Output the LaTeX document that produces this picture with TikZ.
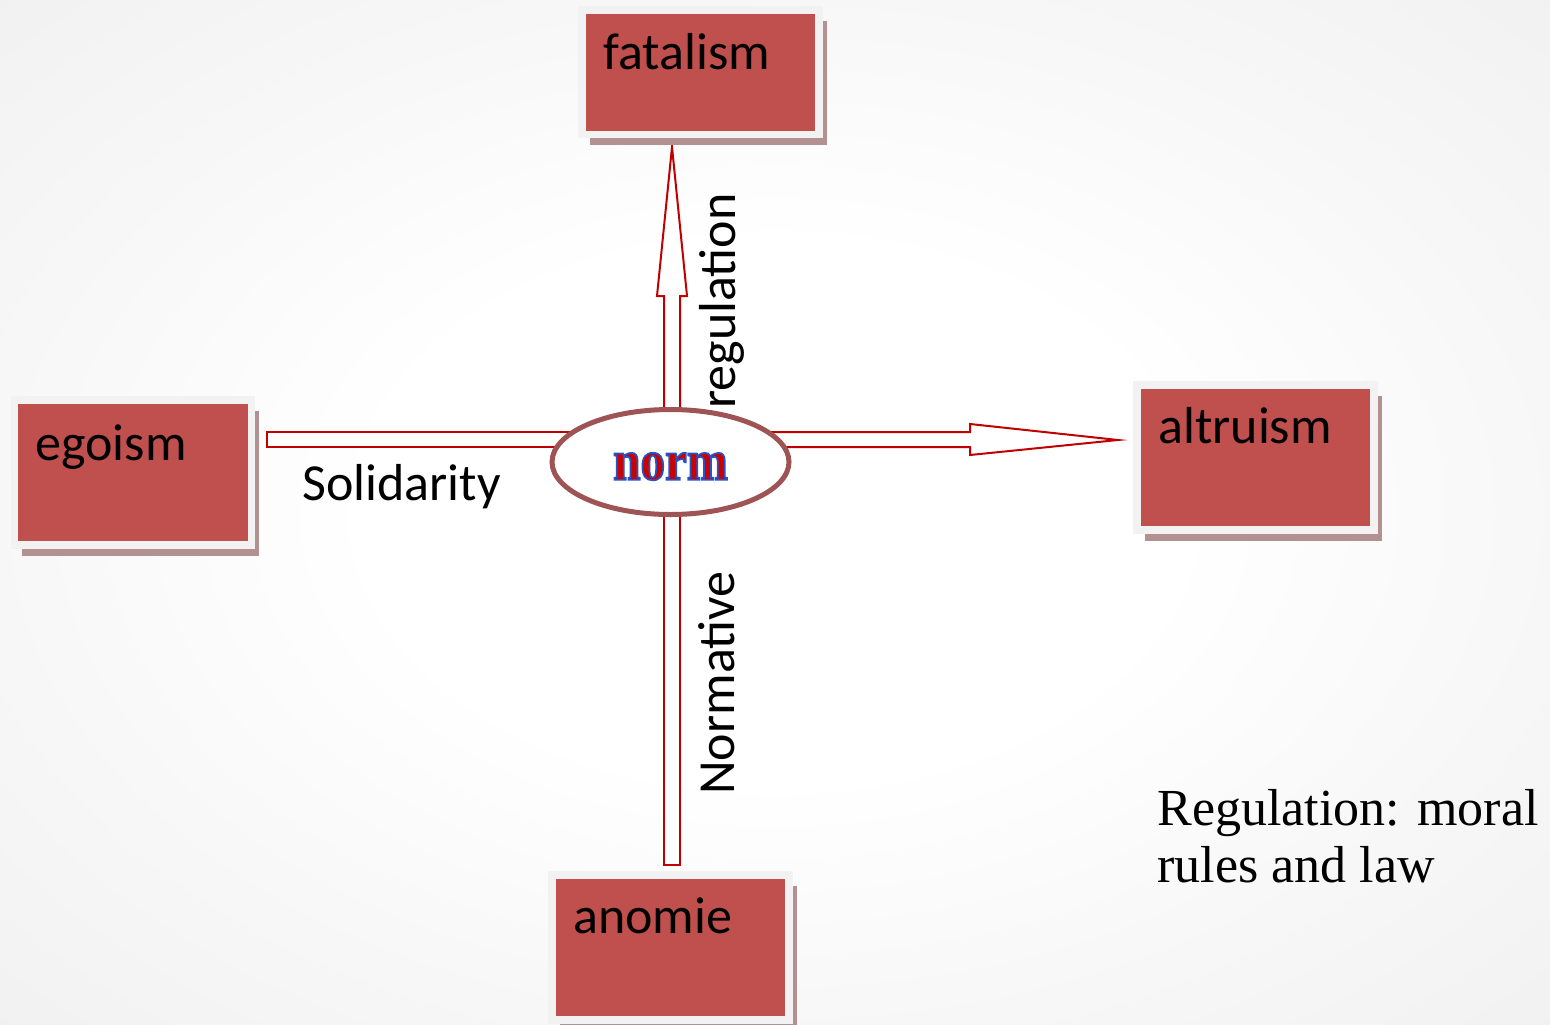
\documentclass[tikz,border=0pt]{standalone}
\usepackage{fontspec}
\setmainfont{Carlito}
\newfontfamily\serifbox{Liberation Serif}
\newfontface\normface[FakeBold=3,FakeStretch=0.86]{Liberation Serif Bold}
\usetikzlibrary{calc,shapes.geometric,shadows}
\definecolor{boxred}{RGB}{192,80,77}
\definecolor{framegray}{RGB}{242,242,242}
\definecolor{shadowred}{RGB}{179,145,145}
\definecolor{arrred}{RGB}{192,0,0}
\definecolor{ellcol}{RGB}{158,84,84}
\definecolor{normred}{RGB}{205,0,0}
\pgfdeclareradialshading{bgshade}{\pgfpoint{0bp}{0bp}}{color(0bp)=(white); color(13bp)=(white); color(25bp)=(gray!6); color(36bp)=(gray!11); color(50bp)=(gray!11)}
\newcommand\pxu{0.02cm}
\begin{document}
\begin{tikzpicture}[x=0.02cm,y=-0.02cm,
  boxnode/.style={draw=framegray, line width=7.5*\pxu, fill=boxred,
    minimum width=237*\pxu, minimum height=145*\pxu, inner sep=0pt, outer sep=0pt,
    drop shadow={shadow xshift=7.75*\pxu, shadow yshift=-10.75*\pxu, fill=shadowred, opacity=1}},
  boxlabel/.style={anchor=base west, inner sep=0pt, font=\fontsize{29.6}{34}\selectfont},
  axislabel/.style={anchor=base west, inner sep=0pt, font=\fontsize{29.6}{34}\selectfont},
  blockarrow/.style={draw=arrred, line width=2*\pxu, fill=white, line join=miter},
]
\useasboundingbox (0,0) rectangle (1550,1024);
\shade[shading=bgshade] (0,0) rectangle (1550,1024);

% connectors (block arrows)
\coordinate (c) at (670.5,462);
\coordinate (uptip) at (672,147);
\coordinate (righttip) at (1118,440);
\coordinate (leftend) at (267,439.5);
\coordinate (downend) at (672,865);
\draw[blockarrow] (664,462) -- (664,296) -- (657,296) -- (uptip) -- (687,296) -- (680,296) -- (680,462) -- cycle;
\draw[blockarrow] (670,432) -- (970,432) -- (970,424) -- (righttip) -- (970,455) -- (970,447) -- (670,447) -- cycle;
\draw[blockarrow] (leftend |- 0,432) rectangle (670,447);
\draw[blockarrow] (664,462) rectangle (downend -| 680,0);

% central ellipse
\node[ellipse, draw=ellcol, line width=5*\pxu, fill=white, minimum width=237*\pxu,
  minimum height=105*\pxu, inner sep=0pt] (norm) at (c) {};
\node[inner sep=0pt, text=normred, font=\normface\fontsize{32.5}{32.5}\selectfont] (normlabel)
  at ($(norm.center)+(0,4.5)$) {\special{pdf:code 0.14 0.33 0.78 RG}norm};

% boxes
\node[boxnode, minimum height=124.5*\pxu] (fatalism) at (700.5,72.25) {};
\node[boxnode] (egoism) at (133,472.5) {};
\node[boxnode] (altruism) at (1255.5,457.25) {};
\node[boxnode] (anomie) at (670.5,947.5) {};

\node[boxlabel] (tf) at (603,70) {fatalism};
\node[boxlabel] (te) at (35,460) {egoism};
\node[boxlabel] (ta) at (1158,443) {altruism};
\node[boxlabel] (tn) at (573,933) {anomie};

% axis labels
\node[axislabel, rotate=90] (reg) at (735,409) {regulation};
\node[axislabel, rotate=90] (normative) at (734,795) {Normative};
\node[axislabel] (sol) at (302,500) {Solidarity};

% note
\node[anchor=base west, inner sep=0pt, align=left,
  font=\serifbox\fontsize{29.6}{32.4}\selectfont] (note) at (1157,882)
  {Regulation: moral\\rules and law};
\end{tikzpicture}
\end{document}
